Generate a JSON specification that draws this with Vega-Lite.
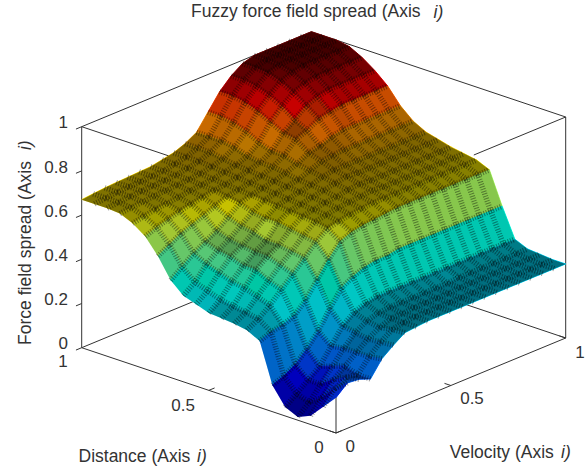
{"$schema":"https://vega.github.io/schema/vega-lite/v6.json","width":586,"height":470,"autosize":"none","padding":0,"background":"white",
"title":{"text":"Fuzzy force field spread (Axis","anchor":"start","frame":"group","dx":191,"dy":20,"offset":0,"font":"Liberation Sans","fontSize":17.5,"fontWeight":"normal","color":"#333"},
"config":{"view":{"stroke":null}},
"datasets":{
"box":[{"d":1,"v":0,"z":0,"d2":1,"v2":0,"z2":1},{"d":0,"v":0,"z":0,"d2":0,"v2":0,"z2":0.2},{"d":0,"v":1,"z":0,"d2":0,"v2":1,"z2":1},{"d":1,"v":0,"z":0,"d2":0,"v2":0,"z2":0},{"d":0,"v":0,"z":0,"d2":0,"v2":1,"z2":0},{"d":1,"v":0,"z":0,"d2":1,"v2":0.6,"z2":0},{"d":0,"v":1,"z":0,"d2":0.6,"v2":1,"z2":0},{"d":1,"v":0,"z":1,"d2":1,"v2":1,"z2":1},{"d":0,"v":1,"z":1,"d2":1,"v2":1,"z2":1},{"d":1,"v":0,"z":1,"d2":0.6,"v2":0,"z2":1},{"d":0,"v":1,"z":1,"d2":0,"v2":0.6,"z2":1},
{"d":1,"v":0,"z":0,"d2":1,"v2":-0.025,"z2":0},{"d":1,"v":0,"z":0.2,"d2":1,"v2":-0.025,"z2":0.2},{"d":1,"v":0,"z":0.4,"d2":1,"v2":-0.025,"z2":0.4},{"d":1,"v":0,"z":0.6,"d2":1,"v2":-0.025,"z2":0.6},{"d":1,"v":0,"z":0.8,"d2":1,"v2":-0.025,"z2":0.8},{"d":1,"v":0,"z":1,"d2":1,"v2":-0.025,"z2":1},
{"d":0.5,"v":0,"z":0,"d2":0.5,"v2":0.025,"z2":0},{"d":0,"v":0,"z":0,"d2":0,"v2":0.025,"z2":0},{"d":0,"v":0.5,"z":0,"d2":0.025,"v2":0.5,"z2":0},{"d":0,"v":0,"z":0,"d2":0.025,"v2":0,"z2":0},{"d":0,"v":1,"z":0,"d2":0.025,"v2":1,"z2":0}],
"ticks":[{"d":1,"v":-0.06,"z":0,"t":"0"},{"d":1,"v":-0.06,"z":0.2,"t":"0.2"},{"d":1,"v":-0.06,"z":0.4,"t":"0.4"},{"d":1,"v":-0.06,"z":0.6,"t":"0.6"},{"d":1,"v":-0.06,"z":0.8,"t":"0.8"},{"d":1,"v":-0.06,"z":1,"t":"1"}],
"bottom":[{"d":0.9655,"v":-0.1196,"z":0,"t":"1"},{"d":0.4755,"v":-0.1396,"z":0,"t":"0.5"},{"d":-0.0403,"v":-0.1186,"z":0,"t":"0"},{"d":-0.103,"v":-0.0517,"z":0,"t":"0"},{"d":-0.1168,"v":0.4628,"z":0,"t":"0.5"},{"d":-0.1098,"v":0.9407,"z":0,"t":"1"}],
"axisnames":[{"d":0.4347,"v":-0.6398,"z":0,"t":"Distance (Axis"},{"d":-0.3535,"v":0.1037,"z":0,"t":"Velocity (Axis"}],
"axisi":[{"d":0.1774,"v":-0.4087,"z":0,"t":"i)"},{"d":-0.5951,"v":0.3207,"z":0,"t":"i)"},{"d":1,"v":1.532,"z":0.856,"t":"i)"}],
"surface":[
{"d":1,"v":1,"z":1},{"d":1,"v":0.95,"z":1},{"d":1,"v":0.9,"z":1},{"d":1,"v":0.85,"z":1},{"d":1,"v":0.8,"z":1},{"d":1,"v":0.75,"z":1},{"d":1,"v":0.7,"z":0.985},{"d":1,"v":0.65,"z":0.95},{"d":1,"v":0.6,"z":0.9},{"d":1,"v":0.55,"z":0.83},{"d":1,"v":0.5,"z":0.76},{"d":1,"v":0.45,"z":0.73},{"d":1,"v":0.4,"z":0.71},{"d":1,"v":0.35,"z":0.7},{"d":1,"v":0.3,"z":0.69},{"d":1,"v":0.25,"z":0.688},{"d":1,"v":0.2,"z":0.685},{"d":1,"v":0.15,"z":0.683},{"d":1,"v":0.1,"z":0.68},{"d":1,"v":0.05,"z":0.675},{"d":1,"v":0,"z":0.67},
{"d":0.95,"v":1,"z":1},{"d":0.95,"v":0.95,"z":1},{"d":0.95,"v":0.9,"z":1},{"d":0.95,"v":0.85,"z":1},{"d":0.95,"v":0.8,"z":1},{"d":0.95,"v":0.75,"z":1},{"d":0.95,"v":0.7,"z":0.985},{"d":0.95,"v":0.65,"z":0.95},{"d":0.95,"v":0.6,"z":0.9},{"d":0.95,"v":0.55,"z":0.83},{"d":0.95,"v":0.5,"z":0.76},{"d":0.95,"v":0.45,"z":0.73},{"d":0.95,"v":0.4,"z":0.71},{"d":0.95,"v":0.35,"z":0.7},{"d":0.95,"v":0.3,"z":0.69},{"d":0.95,"v":0.25,"z":0.688},{"d":0.95,"v":0.2,"z":0.685},{"d":0.95,"v":0.15,"z":0.683},{"d":0.95,"v":0.1,"z":0.68},{"d":0.95,"v":0.05,"z":0.675},{"d":0.95,"v":0,"z":0.67},
{"d":0.9,"v":1,"z":1},{"d":0.9,"v":0.95,"z":1},{"d":0.9,"v":0.9,"z":1},{"d":0.9,"v":0.85,"z":1},{"d":0.9,"v":0.8,"z":1},{"d":0.9,"v":0.75,"z":0.995},{"d":0.9,"v":0.7,"z":0.98},{"d":0.9,"v":0.65,"z":0.94},{"d":0.9,"v":0.6,"z":0.89},{"d":0.9,"v":0.55,"z":0.82},{"d":0.9,"v":0.5,"z":0.76},{"d":0.9,"v":0.45,"z":0.73},{"d":0.9,"v":0.4,"z":0.71},{"d":0.9,"v":0.35,"z":0.7},{"d":0.9,"v":0.3,"z":0.69},{"d":0.9,"v":0.25,"z":0.688},{"d":0.9,"v":0.2,"z":0.685},{"d":0.9,"v":0.15,"z":0.683},{"d":0.9,"v":0.1,"z":0.68},{"d":0.9,"v":0.05,"z":0.675},{"d":0.9,"v":0,"z":0.67},
{"d":0.85,"v":1,"z":0.99},{"d":0.85,"v":0.95,"z":0.99},{"d":0.85,"v":0.9,"z":0.99},{"d":0.85,"v":0.85,"z":0.99},{"d":0.85,"v":0.8,"z":0.99},{"d":0.85,"v":0.75,"z":0.98},{"d":0.85,"v":0.7,"z":0.96},{"d":0.85,"v":0.65,"z":0.92},{"d":0.85,"v":0.6,"z":0.87},{"d":0.85,"v":0.55,"z":0.8},{"d":0.85,"v":0.5,"z":0.75},{"d":0.85,"v":0.45,"z":0.72},{"d":0.85,"v":0.4,"z":0.705},{"d":0.85,"v":0.35,"z":0.695},{"d":0.85,"v":0.3,"z":0.69},{"d":0.85,"v":0.25,"z":0.686},{"d":0.85,"v":0.2,"z":0.683},{"d":0.85,"v":0.15,"z":0.68},{"d":0.85,"v":0.1,"z":0.675},{"d":0.85,"v":0.05,"z":0.67},{"d":0.85,"v":0,"z":0.665},
{"d":0.8,"v":1,"z":0.96},{"d":0.8,"v":0.95,"z":0.96},{"d":0.8,"v":0.9,"z":0.96},{"d":0.8,"v":0.85,"z":0.96},{"d":0.8,"v":0.8,"z":0.96},{"d":0.8,"v":0.75,"z":0.95},{"d":0.8,"v":0.7,"z":0.93},{"d":0.8,"v":0.65,"z":0.89},{"d":0.8,"v":0.6,"z":0.84},{"d":0.8,"v":0.55,"z":0.77},{"d":0.8,"v":0.5,"z":0.73},{"d":0.8,"v":0.45,"z":0.71},{"d":0.8,"v":0.4,"z":0.7},{"d":0.8,"v":0.35,"z":0.69},{"d":0.8,"v":0.3,"z":0.685},{"d":0.8,"v":0.25,"z":0.68},{"d":0.8,"v":0.2,"z":0.672},{"d":0.8,"v":0.15,"z":0.665},{"d":0.8,"v":0.1,"z":0.66},{"d":0.8,"v":0.05,"z":0.65},{"d":0.8,"v":0,"z":0.64},
{"d":0.75,"v":1,"z":0.92},{"d":0.75,"v":0.95,"z":0.92},{"d":0.75,"v":0.9,"z":0.92},{"d":0.75,"v":0.85,"z":0.92},{"d":0.75,"v":0.8,"z":0.92},{"d":0.75,"v":0.75,"z":0.91},{"d":0.75,"v":0.7,"z":0.89},{"d":0.75,"v":0.65,"z":0.85},{"d":0.75,"v":0.6,"z":0.81},{"d":0.75,"v":0.55,"z":0.75},{"d":0.75,"v":0.5,"z":0.72},{"d":0.75,"v":0.45,"z":0.705},{"d":0.75,"v":0.4,"z":0.695},{"d":0.75,"v":0.35,"z":0.685},{"d":0.75,"v":0.3,"z":0.68},{"d":0.75,"v":0.25,"z":0.67},{"d":0.75,"v":0.2,"z":0.66},{"d":0.75,"v":0.15,"z":0.65},{"d":0.75,"v":0.1,"z":0.635},{"d":0.75,"v":0.05,"z":0.62},{"d":0.75,"v":0,"z":0.6},
{"d":0.7,"v":1,"z":0.87},{"d":0.7,"v":0.95,"z":0.87},{"d":0.7,"v":0.9,"z":0.87},{"d":0.7,"v":0.85,"z":0.87},{"d":0.7,"v":0.8,"z":0.87},{"d":0.7,"v":0.75,"z":0.86},{"d":0.7,"v":0.7,"z":0.85},{"d":0.7,"v":0.65,"z":0.82},{"d":0.7,"v":0.6,"z":0.8},{"d":0.7,"v":0.55,"z":0.75},{"d":0.7,"v":0.5,"z":0.72},{"d":0.7,"v":0.45,"z":0.7},{"d":0.7,"v":0.4,"z":0.69},{"d":0.7,"v":0.35,"z":0.68},{"d":0.7,"v":0.3,"z":0.67},{"d":0.7,"v":0.25,"z":0.65},{"d":0.7,"v":0.2,"z":0.63},{"d":0.7,"v":0.15,"z":0.61},{"d":0.7,"v":0.1,"z":0.59},{"d":0.7,"v":0.05,"z":0.56},{"d":0.7,"v":0,"z":0.53},
{"d":0.65,"v":1,"z":0.8},{"d":0.65,"v":0.95,"z":0.8},{"d":0.65,"v":0.9,"z":0.8},{"d":0.65,"v":0.85,"z":0.8},{"d":0.65,"v":0.8,"z":0.8},{"d":0.65,"v":0.75,"z":0.8},{"d":0.65,"v":0.7,"z":0.79},{"d":0.65,"v":0.65,"z":0.77},{"d":0.65,"v":0.6,"z":0.76},{"d":0.65,"v":0.55,"z":0.73},{"d":0.65,"v":0.5,"z":0.71},{"d":0.65,"v":0.45,"z":0.695},{"d":0.65,"v":0.4,"z":0.685},{"d":0.65,"v":0.35,"z":0.675},{"d":0.65,"v":0.3,"z":0.66},{"d":0.65,"v":0.25,"z":0.62},{"d":0.65,"v":0.2,"z":0.58},{"d":0.65,"v":0.15,"z":0.55},{"d":0.65,"v":0.1,"z":0.52},{"d":0.65,"v":0.05,"z":0.48},{"d":0.65,"v":0,"z":0.44},
{"d":0.6,"v":1,"z":0.75},{"d":0.6,"v":0.95,"z":0.75},{"d":0.6,"v":0.9,"z":0.75},{"d":0.6,"v":0.85,"z":0.75},{"d":0.6,"v":0.8,"z":0.75},{"d":0.6,"v":0.75,"z":0.75},{"d":0.6,"v":0.7,"z":0.75},{"d":0.6,"v":0.65,"z":0.745},{"d":0.6,"v":0.6,"z":0.74},{"d":0.6,"v":0.55,"z":0.72},{"d":0.6,"v":0.5,"z":0.7},{"d":0.6,"v":0.45,"z":0.69},{"d":0.6,"v":0.4,"z":0.68},{"d":0.6,"v":0.35,"z":0.67},{"d":0.6,"v":0.3,"z":0.64},{"d":0.6,"v":0.25,"z":0.6},{"d":0.6,"v":0.2,"z":0.56},{"d":0.6,"v":0.15,"z":0.53},{"d":0.6,"v":0.1,"z":0.49},{"d":0.6,"v":0.05,"z":0.43},{"d":0.6,"v":0,"z":0.39},
{"d":0.55,"v":1,"z":0.72},{"d":0.55,"v":0.95,"z":0.72},{"d":0.55,"v":0.9,"z":0.72},{"d":0.55,"v":0.85,"z":0.72},{"d":0.55,"v":0.8,"z":0.72},{"d":0.55,"v":0.75,"z":0.72},{"d":0.55,"v":0.7,"z":0.72},{"d":0.55,"v":0.65,"z":0.72},{"d":0.55,"v":0.6,"z":0.72},{"d":0.55,"v":0.55,"z":0.71},{"d":0.55,"v":0.5,"z":0.695},{"d":0.55,"v":0.45,"z":0.685},{"d":0.55,"v":0.4,"z":0.675},{"d":0.55,"v":0.35,"z":0.665},{"d":0.55,"v":0.3,"z":0.63},{"d":0.55,"v":0.25,"z":0.59},{"d":0.55,"v":0.2,"z":0.55},{"d":0.55,"v":0.15,"z":0.52},{"d":0.55,"v":0.1,"z":0.47},{"d":0.55,"v":0.05,"z":0.41},{"d":0.55,"v":0,"z":0.37},
{"d":0.5,"v":1,"z":0.705},{"d":0.5,"v":0.95,"z":0.705},{"d":0.5,"v":0.9,"z":0.705},{"d":0.5,"v":0.85,"z":0.705},{"d":0.5,"v":0.8,"z":0.705},{"d":0.5,"v":0.75,"z":0.705},{"d":0.5,"v":0.7,"z":0.705},{"d":0.5,"v":0.65,"z":0.705},{"d":0.5,"v":0.6,"z":0.71},{"d":0.5,"v":0.55,"z":0.7},{"d":0.5,"v":0.5,"z":0.69},{"d":0.5,"v":0.45,"z":0.68},{"d":0.5,"v":0.4,"z":0.67},{"d":0.5,"v":0.35,"z":0.66},{"d":0.5,"v":0.3,"z":0.63},{"d":0.5,"v":0.25,"z":0.57},{"d":0.5,"v":0.2,"z":0.54},{"d":0.5,"v":0.15,"z":0.5},{"d":0.5,"v":0.1,"z":0.45},{"d":0.5,"v":0.05,"z":0.39},{"d":0.5,"v":0,"z":0.35},
{"d":0.45,"v":1,"z":0.69},{"d":0.45,"v":0.95,"z":0.69},{"d":0.45,"v":0.9,"z":0.69},{"d":0.45,"v":0.85,"z":0.69},{"d":0.45,"v":0.8,"z":0.69},{"d":0.45,"v":0.75,"z":0.69},{"d":0.45,"v":0.7,"z":0.69},{"d":0.45,"v":0.65,"z":0.69},{"d":0.45,"v":0.6,"z":0.695},{"d":0.45,"v":0.55,"z":0.69},{"d":0.45,"v":0.5,"z":0.68},{"d":0.45,"v":0.45,"z":0.675},{"d":0.45,"v":0.4,"z":0.665},{"d":0.45,"v":0.35,"z":0.655},{"d":0.45,"v":0.3,"z":0.62},{"d":0.45,"v":0.25,"z":0.57},{"d":0.45,"v":0.2,"z":0.54},{"d":0.45,"v":0.15,"z":0.5},{"d":0.45,"v":0.1,"z":0.44},{"d":0.45,"v":0.05,"z":0.38},{"d":0.45,"v":0,"z":0.345},
{"d":0.4,"v":1,"z":0.68},{"d":0.4,"v":0.95,"z":0.68},{"d":0.4,"v":0.9,"z":0.68},{"d":0.4,"v":0.85,"z":0.68},{"d":0.4,"v":0.8,"z":0.68},{"d":0.4,"v":0.75,"z":0.68},{"d":0.4,"v":0.7,"z":0.68},{"d":0.4,"v":0.65,"z":0.68},{"d":0.4,"v":0.6,"z":0.685},{"d":0.4,"v":0.55,"z":0.68},{"d":0.4,"v":0.5,"z":0.675},{"d":0.4,"v":0.45,"z":0.67},{"d":0.4,"v":0.4,"z":0.66},{"d":0.4,"v":0.35,"z":0.65},{"d":0.4,"v":0.3,"z":0.61},{"d":0.4,"v":0.25,"z":0.56},{"d":0.4,"v":0.2,"z":0.52},{"d":0.4,"v":0.15,"z":0.47},{"d":0.4,"v":0.1,"z":0.42},{"d":0.4,"v":0.05,"z":0.37},{"d":0.4,"v":0,"z":0.34},
{"d":0.35,"v":1,"z":0.67},{"d":0.35,"v":0.95,"z":0.67},{"d":0.35,"v":0.9,"z":0.67},{"d":0.35,"v":0.85,"z":0.67},{"d":0.35,"v":0.8,"z":0.67},{"d":0.35,"v":0.75,"z":0.67},{"d":0.35,"v":0.7,"z":0.67},{"d":0.35,"v":0.65,"z":0.67},{"d":0.35,"v":0.6,"z":0.67},{"d":0.35,"v":0.55,"z":0.67},{"d":0.35,"v":0.5,"z":0.665},{"d":0.35,"v":0.45,"z":0.66},{"d":0.35,"v":0.4,"z":0.65},{"d":0.35,"v":0.35,"z":0.64},{"d":0.35,"v":0.3,"z":0.6},{"d":0.35,"v":0.25,"z":0.55},{"d":0.35,"v":0.2,"z":0.5},{"d":0.35,"v":0.15,"z":0.45},{"d":0.35,"v":0.1,"z":0.4},{"d":0.35,"v":0.05,"z":0.36},{"d":0.35,"v":0,"z":0.33},
{"d":0.3,"v":1,"z":0.645},{"d":0.3,"v":0.95,"z":0.645},{"d":0.3,"v":0.9,"z":0.645},{"d":0.3,"v":0.85,"z":0.645},{"d":0.3,"v":0.8,"z":0.645},{"d":0.3,"v":0.75,"z":0.645},{"d":0.3,"v":0.7,"z":0.645},{"d":0.3,"v":0.65,"z":0.645},{"d":0.3,"v":0.6,"z":0.645},{"d":0.3,"v":0.55,"z":0.64},{"d":0.3,"v":0.5,"z":0.635},{"d":0.3,"v":0.45,"z":0.63},{"d":0.3,"v":0.4,"z":0.62},{"d":0.3,"v":0.35,"z":0.6},{"d":0.3,"v":0.3,"z":0.54},{"d":0.3,"v":0.25,"z":0.47},{"d":0.3,"v":0.2,"z":0.4},{"d":0.3,"v":0.15,"z":0.35},{"d":0.3,"v":0.1,"z":0.33},{"d":0.3,"v":0.05,"z":0.32},{"d":0.3,"v":0,"z":0.3},
{"d":0.25,"v":1,"z":0.5},{"d":0.25,"v":0.95,"z":0.5},{"d":0.25,"v":0.9,"z":0.5},{"d":0.25,"v":0.85,"z":0.5},{"d":0.25,"v":0.8,"z":0.5},{"d":0.25,"v":0.75,"z":0.5},{"d":0.25,"v":0.7,"z":0.5},{"d":0.25,"v":0.65,"z":0.5},{"d":0.25,"v":0.6,"z":0.5},{"d":0.25,"v":0.55,"z":0.5},{"d":0.25,"v":0.5,"z":0.49},{"d":0.25,"v":0.45,"z":0.49},{"d":0.25,"v":0.4,"z":0.48},{"d":0.25,"v":0.35,"z":0.46},{"d":0.25,"v":0.3,"z":0.43},{"d":0.25,"v":0.25,"z":0.36},{"d":0.25,"v":0.2,"z":0.28},{"d":0.25,"v":0.15,"z":0.22},{"d":0.25,"v":0.1,"z":0.17},{"d":0.25,"v":0.05,"z":0.14},{"d":0.25,"v":0,"z":0.12},
{"d":0.2,"v":1,"z":0.37},{"d":0.2,"v":0.95,"z":0.37},{"d":0.2,"v":0.9,"z":0.37},{"d":0.2,"v":0.85,"z":0.37},{"d":0.2,"v":0.8,"z":0.37},{"d":0.2,"v":0.75,"z":0.37},{"d":0.2,"v":0.7,"z":0.37},{"d":0.2,"v":0.65,"z":0.37},{"d":0.2,"v":0.6,"z":0.37},{"d":0.2,"v":0.55,"z":0.37},{"d":0.2,"v":0.5,"z":0.37},{"d":0.2,"v":0.45,"z":0.37},{"d":0.2,"v":0.4,"z":0.37},{"d":0.2,"v":0.35,"z":0.36},{"d":0.2,"v":0.3,"z":0.34},{"d":0.2,"v":0.25,"z":0.3},{"d":0.2,"v":0.2,"z":0.23},{"d":0.2,"v":0.15,"z":0.16},{"d":0.2,"v":0.1,"z":0.12},{"d":0.2,"v":0.05,"z":0.08},{"d":0.2,"v":0,"z":0.04},
{"d":0.15,"v":1,"z":0.345},{"d":0.15,"v":0.95,"z":0.345},{"d":0.15,"v":0.9,"z":0.345},{"d":0.15,"v":0.85,"z":0.345},{"d":0.15,"v":0.8,"z":0.345},{"d":0.15,"v":0.75,"z":0.345},{"d":0.15,"v":0.7,"z":0.345},{"d":0.15,"v":0.65,"z":0.34},{"d":0.15,"v":0.6,"z":0.34},{"d":0.15,"v":0.55,"z":0.34},{"d":0.15,"v":0.5,"z":0.34},{"d":0.15,"v":0.45,"z":0.34},{"d":0.15,"v":0.4,"z":0.34},{"d":0.15,"v":0.35,"z":0.335},{"d":0.15,"v":0.3,"z":0.32},{"d":0.15,"v":0.25,"z":0.29},{"d":0.15,"v":0.2,"z":0.24},{"d":0.15,"v":0.15,"z":0.18},{"d":0.15,"v":0.1,"z":0.12},{"d":0.15,"v":0.05,"z":0.06},{"d":0.15,"v":0,"z":0.015},
{"d":0.1,"v":1,"z":0.34},{"d":0.1,"v":0.95,"z":0.34},{"d":0.1,"v":0.9,"z":0.34},{"d":0.1,"v":0.85,"z":0.34},{"d":0.1,"v":0.8,"z":0.34},{"d":0.1,"v":0.75,"z":0.34},{"d":0.1,"v":0.7,"z":0.34},{"d":0.1,"v":0.65,"z":0.34},{"d":0.1,"v":0.6,"z":0.335},{"d":0.1,"v":0.55,"z":0.335},{"d":0.1,"v":0.5,"z":0.335},{"d":0.1,"v":0.45,"z":0.335},{"d":0.1,"v":0.4,"z":0.33},{"d":0.1,"v":0.35,"z":0.33},{"d":0.1,"v":0.3,"z":0.31},{"d":0.1,"v":0.25,"z":0.28},{"d":0.1,"v":0.2,"z":0.24},{"d":0.1,"v":0.15,"z":0.2},{"d":0.1,"v":0.1,"z":0.16},{"d":0.1,"v":0.05,"z":0.1},{"d":0.1,"v":0,"z":0.04},
{"d":0.05,"v":1,"z":0.335},{"d":0.05,"v":0.95,"z":0.335},{"d":0.05,"v":0.9,"z":0.335},{"d":0.05,"v":0.85,"z":0.335},{"d":0.05,"v":0.8,"z":0.335},{"d":0.05,"v":0.75,"z":0.335},{"d":0.05,"v":0.7,"z":0.335},{"d":0.05,"v":0.65,"z":0.335},{"d":0.05,"v":0.6,"z":0.335},{"d":0.05,"v":0.55,"z":0.335},{"d":0.05,"v":0.5,"z":0.335},{"d":0.05,"v":0.45,"z":0.335},{"d":0.05,"v":0.4,"z":0.335},{"d":0.05,"v":0.35,"z":0.33},{"d":0.05,"v":0.3,"z":0.32},{"d":0.05,"v":0.25,"z":0.285},{"d":0.05,"v":0.2,"z":0.24},{"d":0.05,"v":0.15,"z":0.18},{"d":0.05,"v":0.1,"z":0.19},{"d":0.05,"v":0.05,"z":0.16},{"d":0.05,"v":0,"z":0.1},
{"d":0,"v":1,"z":0.335},{"d":0,"v":0.95,"z":0.335},{"d":0,"v":0.9,"z":0.335},{"d":0,"v":0.85,"z":0.335},{"d":0,"v":0.8,"z":0.335},{"d":0,"v":0.75,"z":0.335},{"d":0,"v":0.7,"z":0.335},{"d":0,"v":0.65,"z":0.335},{"d":0,"v":0.6,"z":0.335},{"d":0,"v":0.55,"z":0.335},{"d":0,"v":0.5,"z":0.335},{"d":0,"v":0.45,"z":0.335},{"d":0,"v":0.4,"z":0.335},{"d":0,"v":0.35,"z":0.33},{"d":0,"v":0.3,"z":0.325},{"d":0,"v":0.25,"z":0.29},{"d":0,"v":0.2,"z":0.25},{"d":0,"v":0.15,"z":0.18},{"d":0,"v":0.1,"z":0.2},{"d":0,"v":0.05,"z":0.205},{"d":0,"v":0,"z":0.16}
]},
"layer":[
{"data":{"name":"box"},"transform":[{"calculate":"336-254.3*datum.d+229.7*datum.v","as":"sx"},{"calculate":"433-85.3*datum.d-95*datum.v-221*datum.z","as":"sy"},{"calculate":"336-254.3*datum.d2+229.7*datum.v2","as":"sx2"},{"calculate":"433-85.3*datum.d2-95*datum.v2-221*datum.z2","as":"sy2"}],
"mark":{"type":"rule","color":"#333","strokeWidth":1},
"encoding":{"x":{"field":"sx","type":"quantitative","scale":{"domain":[0,586],"range":[0,586],"nice":false,"zero":false},"axis":null},"x2":{"field":"sx2"},"y":{"field":"sy","type":"quantitative","scale":{"domain":[0,470],"range":[0,470],"nice":false,"zero":false},"axis":null},"y2":{"field":"sy2"}}},
{"data":{"name":"surface"},
"transform":[{"calculate":"336-254.3*datum.d+229.7*datum.v","as":"sx"},{"calculate":"433-85.3*datum.d-95*datum.v-221*datum.z","as":"sy"},
{"window":[{"op":"lead","field":"z","as":"zv"},{"op":"lead","field":"sx","as":"sxv"},{"op":"lead","field":"sy","as":"syv"}],"groupby":["d"],"sort":[{"field":"v","order":"ascending"}]},
{"window":[{"op":"lead","field":"z","as":"zd"},{"op":"lead","field":"sx","as":"sxd"},{"op":"lead","field":"sy","as":"syd"},{"op":"lead","field":"zv","as":"zdv"},{"op":"lead","field":"sxv","as":"sxdv"},{"op":"lead","field":"syv","as":"sydv"}],"groupby":["v"],"sort":[{"field":"d","order":"ascending"}]}],
"layer":[
{"transform":[{"filter":"datum.sxdv!=null"},{"calculate":"(datum.z+datum.zv+datum.zd+datum.zdv)/4","as":"zm"},{"calculate":"abs(datum.zd-datum.z)+abs(datum.zv-datum.z)","as":"steep"},{"calculate":"datum.d+'_'+datum.v","as":"cell"},{"calculate":"datum.sx","as":"p1"},{"calculate":"datum.sxv","as":"p2"},{"calculate":"datum.sxdv","as":"p3"},{"calculate":"datum.sxd","as":"p4"},{"calculate":"datum.sy","as":"q1"},{"calculate":"datum.syv","as":"q2"},{"calculate":"datum.sydv","as":"q3"},{"calculate":"datum.syd","as":"q4"},{"fold":["p1","p2","p3","p4"],"as":["corner","px"]},{"calculate":"datum['q'+substring(datum.corner,1)]","as":"py"}],
"layer":[
{"mark":{"type":"line","filled":true,"strokeWidth":1},
"encoding":{"x":{"field":"px","type":"quantitative"},"y":{"field":"py","type":"quantitative"},"detail":{"field":"cell"},"order":{"field":"corner"},
"fill":{"field":"zm","type":"quantitative","legend":null,"scale":{"domain":[0.016,0.14,0.39,0.64,0.89,1],"range":["#00008f","#0000ff","#00ffff","#ffff00","#ff0000","#800000"]}},
"stroke":{"field":"zm","type":"quantitative","legend":null,"scale":{"domain":[0.016,0.14,0.39,0.64,0.89,1],"range":["#00008f","#0000ff","#00ffff","#ffff00","#ff0000","#800000"]}}}},
{"mark":{"type":"line","filled":true,"color":"black","strokeWidth":0},
"encoding":{"x":{"field":"px","type":"quantitative"},"y":{"field":"py","type":"quantitative"},"detail":{"field":"cell"},"order":{"field":"corner"},
"opacity":{"field":"steep","type":"quantitative","legend":null,"scale":{"domain":[0.02,0.07],"range":[0.5,0.22],"clamp":true}}}}
]},
{"transform":[{"filter":"datum.sxv!=null&&datum.d>0&&datum.d<1"}],"mark":{"type":"rule","color":"black","strokeWidth":5.5,"strokeDash":[1,1.5],"opacity":0.4},"encoding":{"x":{"field":"sx","type":"quantitative"},"x2":{"field":"sxv"},"y":{"field":"sy","type":"quantitative"},"y2":{"field":"syv"}}},
{"transform":[{"filter":"datum.sxd!=null&&datum.v>0&&datum.v<1"}],"mark":{"type":"rule","color":"black","strokeWidth":5.5,"strokeDash":[1,1.5],"opacity":0.4},"encoding":{"x":{"field":"sx","type":"quantitative"},"x2":{"field":"sxd"},"y":{"field":"sy","type":"quantitative"},"y2":{"field":"syd"}}}
]},
{"data":{"name":"ticks"},"transform":[{"calculate":"336-254.3*datum.d+229.7*datum.v","as":"sx"},{"calculate":"433-85.3*datum.d-95*datum.v-221*datum.z","as":"sy"}],"mark":{"type":"text","align":"right","baseline":"middle","dy":-9,"font":"Liberation Sans","fontSize":17,"color":"#333"},"encoding":{"x":{"field":"sx","type":"quantitative"},"y":{"field":"sy","type":"quantitative"},"text":{"field":"t"}}},
{"data":{"name":"bottom"},"transform":[{"calculate":"336-254.3*datum.d+229.7*datum.v","as":"sx"},{"calculate":"433-85.3*datum.d-95*datum.v-221*datum.z","as":"sy"}],"mark":{"type":"text","align":"center","baseline":"middle","font":"Liberation Sans","fontSize":17,"color":"#333"},"encoding":{"x":{"field":"sx","type":"quantitative"},"y":{"field":"sy","type":"quantitative"},"text":{"field":"t"}}},
{"data":{"name":"axisnames"},"transform":[{"calculate":"336-254.3*datum.d+229.7*datum.v","as":"sx"},{"calculate":"433-85.3*datum.d-95*datum.v-221*datum.z","as":"sy"}],"mark":{"type":"text","align":"left","baseline":"middle","font":"Liberation Sans","fontSize":17.5,"color":"#333"},"encoding":{"x":{"field":"sx","type":"quantitative"},"y":{"field":"sy","type":"quantitative"},"text":{"field":"t"}}},
{"data":{"name":"axisi"},"transform":[{"calculate":"336-254.3*datum.d+229.7*datum.v","as":"sx"},{"calculate":"433-85.3*datum.d-95*datum.v-221*datum.z","as":"sy"}],"mark":{"type":"text","align":"left","baseline":"middle","font":"Liberation Sans","fontStyle":"italic","fontSize":17.5,"color":"#333"},"encoding":{"x":{"field":"sx","type":"quantitative"},"y":{"field":"sy","type":"quantitative"},"text":{"field":"t"}}},
{"data":{"values":[{"d":1,"v":-0.2425,"z":0.117,"t":"Force field spread (Axis"}]},"transform":[{"calculate":"336-254.3*datum.d+229.7*datum.v","as":"sx"},{"calculate":"433-85.3*datum.d-95*datum.v-221*datum.z","as":"sy"}],"mark":{"type":"text","angle":270,"align":"left","baseline":"middle","font":"Liberation Sans","fontSize":17.5,"color":"#333"},"encoding":{"x":{"field":"sx","type":"quantitative"},"y":{"field":"sy","type":"quantitative"},"text":{"field":"t"}}},
{"data":{"values":[{"d":1,"v":-0.2425,"z":0.9986,"t":"i)"}]},"transform":[{"calculate":"336-254.3*datum.d+229.7*datum.v","as":"sx"},{"calculate":"433-85.3*datum.d-95*datum.v-221*datum.z","as":"sy"}],"mark":{"type":"text","angle":270,"align":"left","baseline":"middle","font":"Liberation Sans","fontStyle":"italic","fontSize":17.5,"color":"#333"},"encoding":{"x":{"field":"sx","type":"quantitative"},"y":{"field":"sy","type":"quantitative"},"text":{"field":"t"}}}
]}
